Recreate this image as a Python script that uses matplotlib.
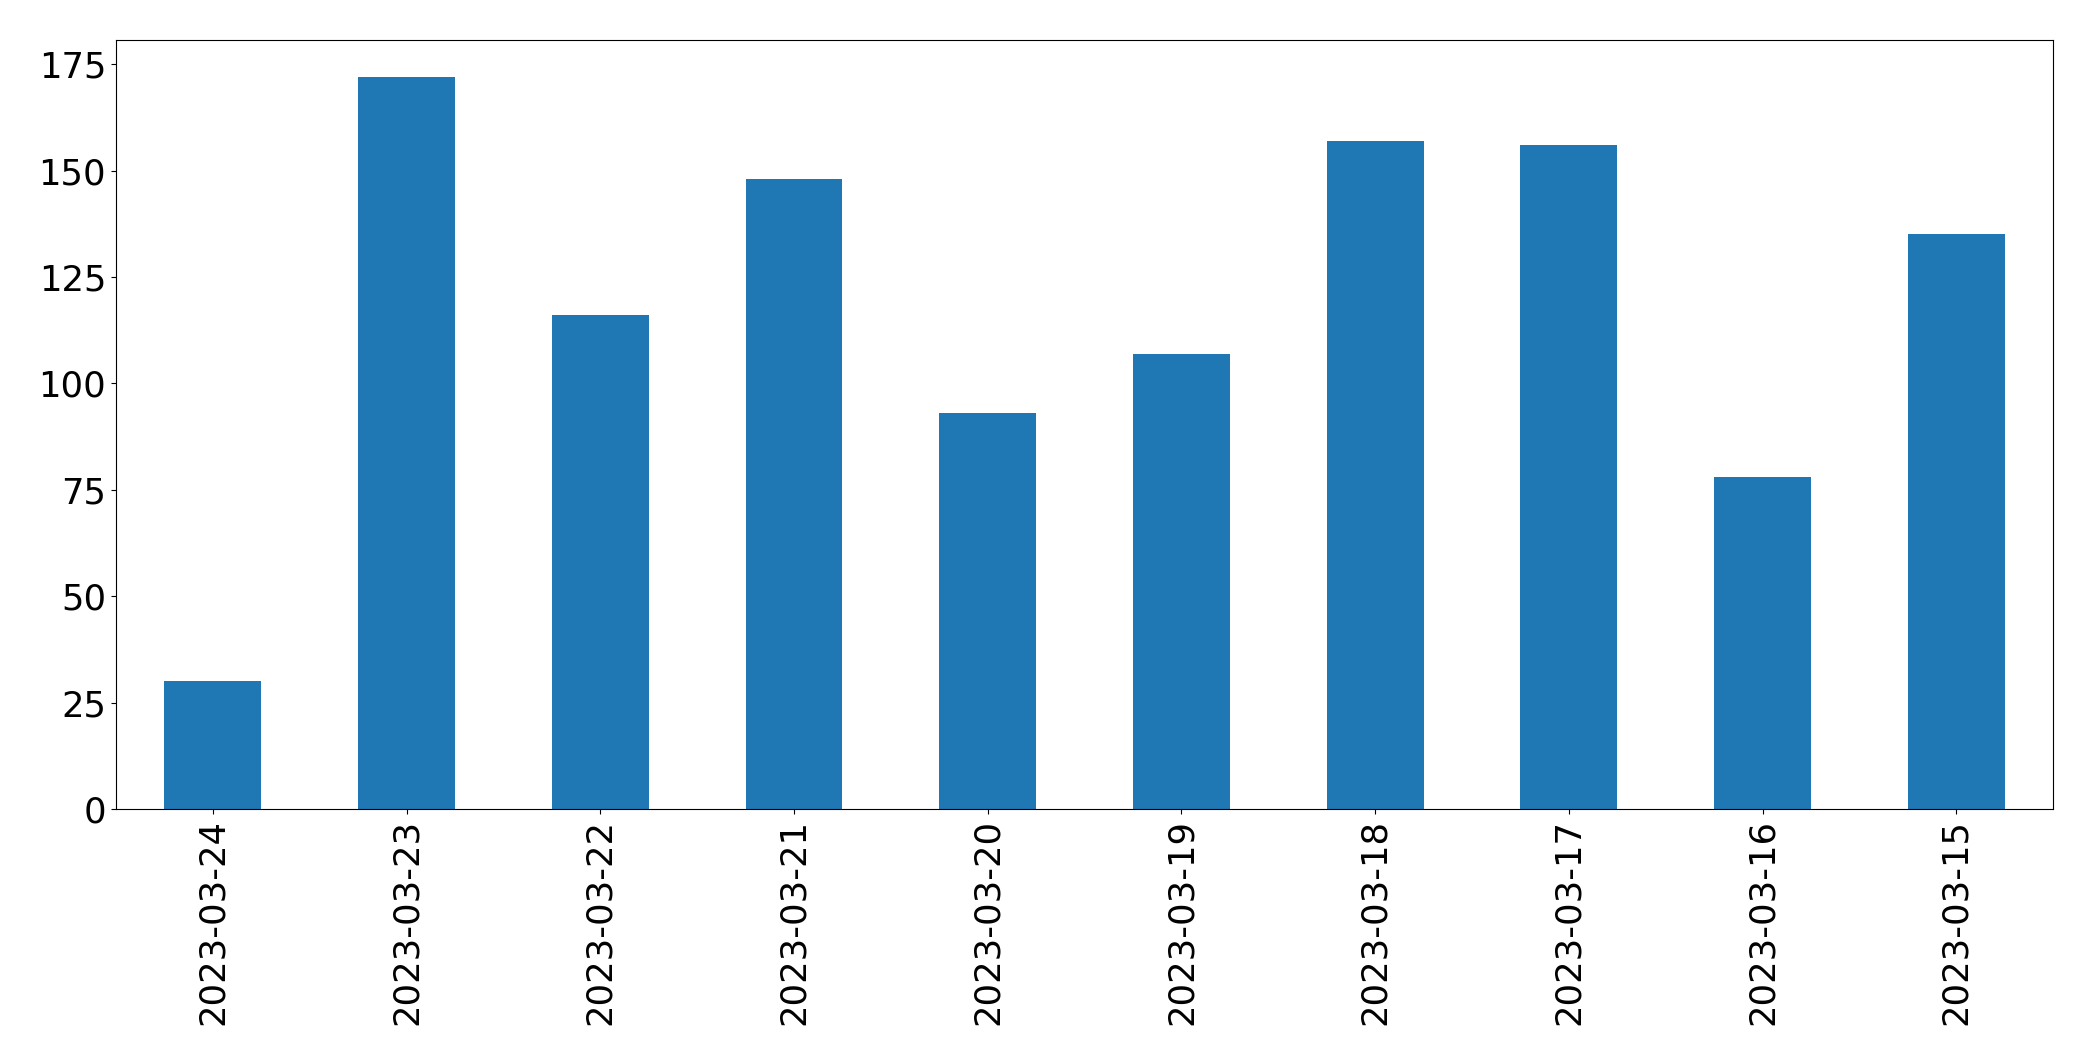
import matplotlib
matplotlib.use("Agg")
import matplotlib.pyplot as plt
import numpy as np

# dates (categories) and counts
dates = ['2023-03-24', '2023-03-23', '2023-03-22', '2023-03-21', '2023-03-20',
         '2023-03-19', '2023-03-18', '2023-03-17', '2023-03-16', '2023-03-15']
counts = [30, 172, 116, 148, 93, 107, 157, 156, 78, 135]

fig = plt.figure(figsize=(20.93, 10.61), dpi=100)
ax = fig.add_axes([0.0554, 0.2375, 0.9256, 0.7245])

x = np.arange(len(dates))
ax.bar(x, counts, width=0.5, color='#1f77b4')
ax.set_xlim(-0.5, len(dates) - 0.5)
ax.set_xticks(x)
ax.set_xticklabels(dates, rotation=90)
ax.tick_params(axis='both', labelsize=25.5)
ax.set_yticks([0, 25, 50, 75, 100, 125, 150, 175])

fig.savefig('out.png', dpi=100)
